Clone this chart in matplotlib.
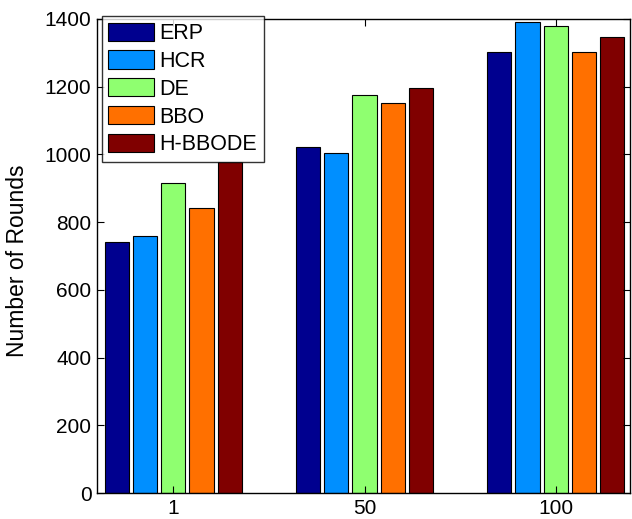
import numpy as np
import matplotlib
matplotlib.use("Agg")
import matplotlib.pyplot as plt

plt.rcParams['font.family'] = ['Liberation Sans', 'DejaVu Sans']

# data
groups = ['1', '50', '100']
methods = ['ERP', 'HCR', 'DE', 'BBO', 'H-BBODE']
erp = [742, 1021, 1303]
hcr = [760, 1004, 1391]
de = [915, 1175, 1379]
bbo = [843, 1151, 1303]
hbbode = [978, 1196, 1346]
colors = ['#00008f', '#008fff', '#8fff70', '#ff7000', '#800000']

series = [erp, hcr, de, bbo, hbbode]

fig = plt.figure(figsize=(6.32, 5.19), dpi=100)
ax = fig.add_axes([0.1535, 0.050, 0.8435, 0.9134])

x = np.arange(1, len(groups) + 1)
pitch = 0.147
width = 0.126
for i, (vals, name, c) in enumerate(zip(series, methods, colors)):
    ax.bar(x + (i - 2) * pitch, vals, width, color=c, edgecolor='black',
           linewidth=0.8, label=name)

ax.set_xlim(0.6, 3.39)
ax.set_ylim(0, 1400)
ax.set_xticks(x)
ax.set_xticklabels(groups)
ax.set_yticks(np.arange(0, 1401, 200))
ax.tick_params(direction='in', top=True, right=True, length=5, width=0.8,
               labelsize=15, pad=4)
for s in ax.spines.values():
    s.set_linewidth(1.0)
ax.set_ylabel('Number of Rounds', fontsize=16.5)
ax.yaxis.set_label_coords(-0.128, 0.49)

leg = ax.legend(loc='upper left', bbox_to_anchor=(0.009, 1.006),
                borderaxespad=0, fontsize=15.5, frameon=True, fancybox=False,
                handlelength=2.14, handleheight=0.93, labelspacing=0.29,
                handletextpad=0.25, borderpad=0.3)
leg.get_frame().set_edgecolor('black')
leg.get_frame().set_linewidth(1.0)

fig.savefig('out.png', dpi=100)
